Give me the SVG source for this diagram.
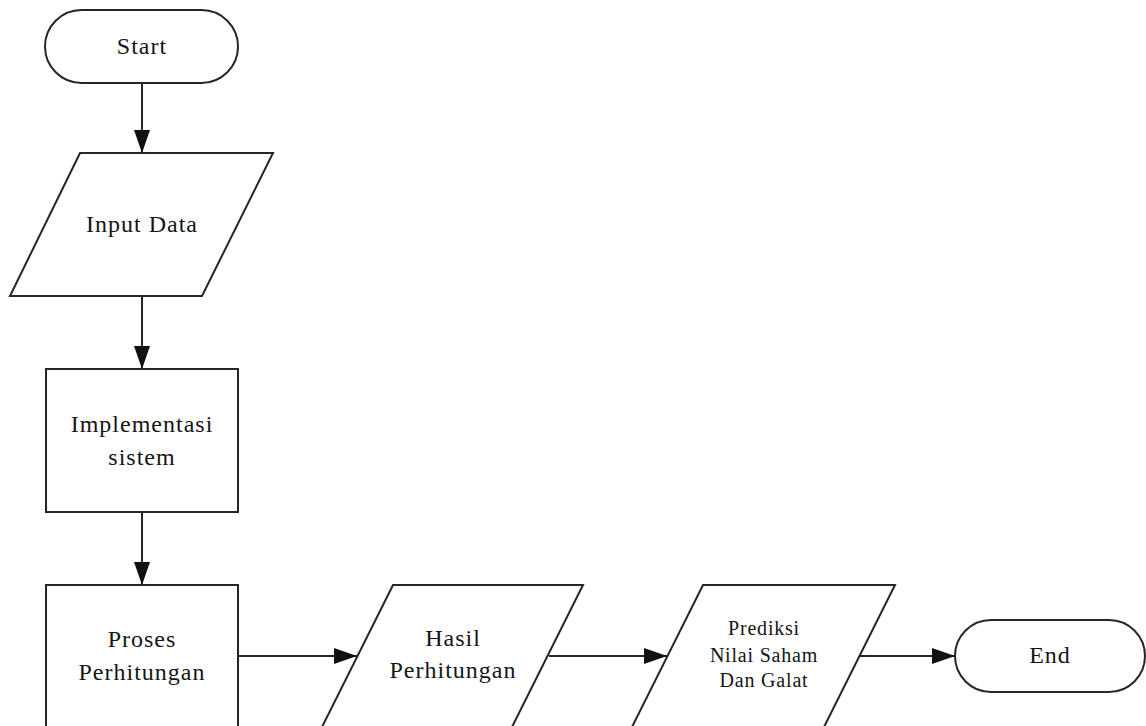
<svg xmlns="http://www.w3.org/2000/svg" width="1146" height="726" viewBox="0 0 1146 726">
<style>
.shape{fill:#fff;stroke:#262626;stroke-width:2}
.conn{fill:none;stroke:#262626;stroke-width:2}
.lbl{font-family:"Liberation Serif","Times New Roman",serif;font-size:24px;letter-spacing:1px;fill:#151515;text-anchor:middle}
.sm{font-size:20px;letter-spacing:0.8px}
</style>
<defs>
<marker id="arr" markerUnits="userSpaceOnUse" markerWidth="25" markerHeight="18" refX="23" refY="8" orient="auto">
<path d="M0,0 L23,8 L0,16 z" fill="#111"/>
</marker>
</defs>
<rect width="1146" height="726" fill="#fff"/>
<g id="connectors">
<line class="conn" x1="142" y1="83" x2="142" y2="153" marker-end="url(#arr)"/>
<line class="conn" x1="142" y1="296" x2="142" y2="369" marker-end="url(#arr)"/>
<line class="conn" x1="142" y1="512" x2="142" y2="585" marker-end="url(#arr)"/>
<line class="conn" x1="238" y1="656" x2="357" y2="656" marker-end="url(#arr)"/>
<line class="conn" x1="549" y1="656" x2="667" y2="656" marker-end="url(#arr)"/>
<line class="conn" x1="860" y1="656" x2="955" y2="656" marker-end="url(#arr)"/>
</g>
<g id="start">
<rect class="shape" x="45" y="10" width="193" height="73" rx="36.5" ry="36.5"/>
<text class="lbl" x="142" y="54">Start</text>
</g>
<g id="input-data">
<polygon class="shape" points="80,153 273,153 202,296 10,296"/>
<text class="lbl" x="142" y="232">Input Data</text>
</g>
<g id="implementasi">
<rect class="shape" x="46" y="369" width="192" height="143"/>
<text class="lbl" x="142" y="432">Implementasi</text>
<text class="lbl" x="142" y="465">sistem</text>
</g>
<g id="proses">
<rect class="shape" x="46" y="585" width="192" height="145"/>
<text class="lbl" x="142" y="647">Proses</text>
<text class="lbl" x="142" y="680">Perhitungan</text>
</g>
<g id="hasil">
<polygon class="shape" points="393,585 583,585 511,729 321,729"/>
<text class="lbl" x="453" y="646">Hasil</text>
<text class="lbl" x="453" y="678">Perhitungan</text>
</g>
<g id="prediksi">
<polygon class="shape" points="703,585 895,585 823,729 631,729"/>
<text class="lbl sm" x="764" y="635">Prediksi</text>
<text class="lbl sm" x="764" y="662">Nilai Saham</text>
<text class="lbl sm" x="764" y="687">Dan Galat</text>
</g>
<g id="end">
<rect class="shape" x="955" y="620" width="190" height="72" rx="36" ry="36"/>
<text class="lbl" x="1050" y="663">End</text>
</g>
</svg>
